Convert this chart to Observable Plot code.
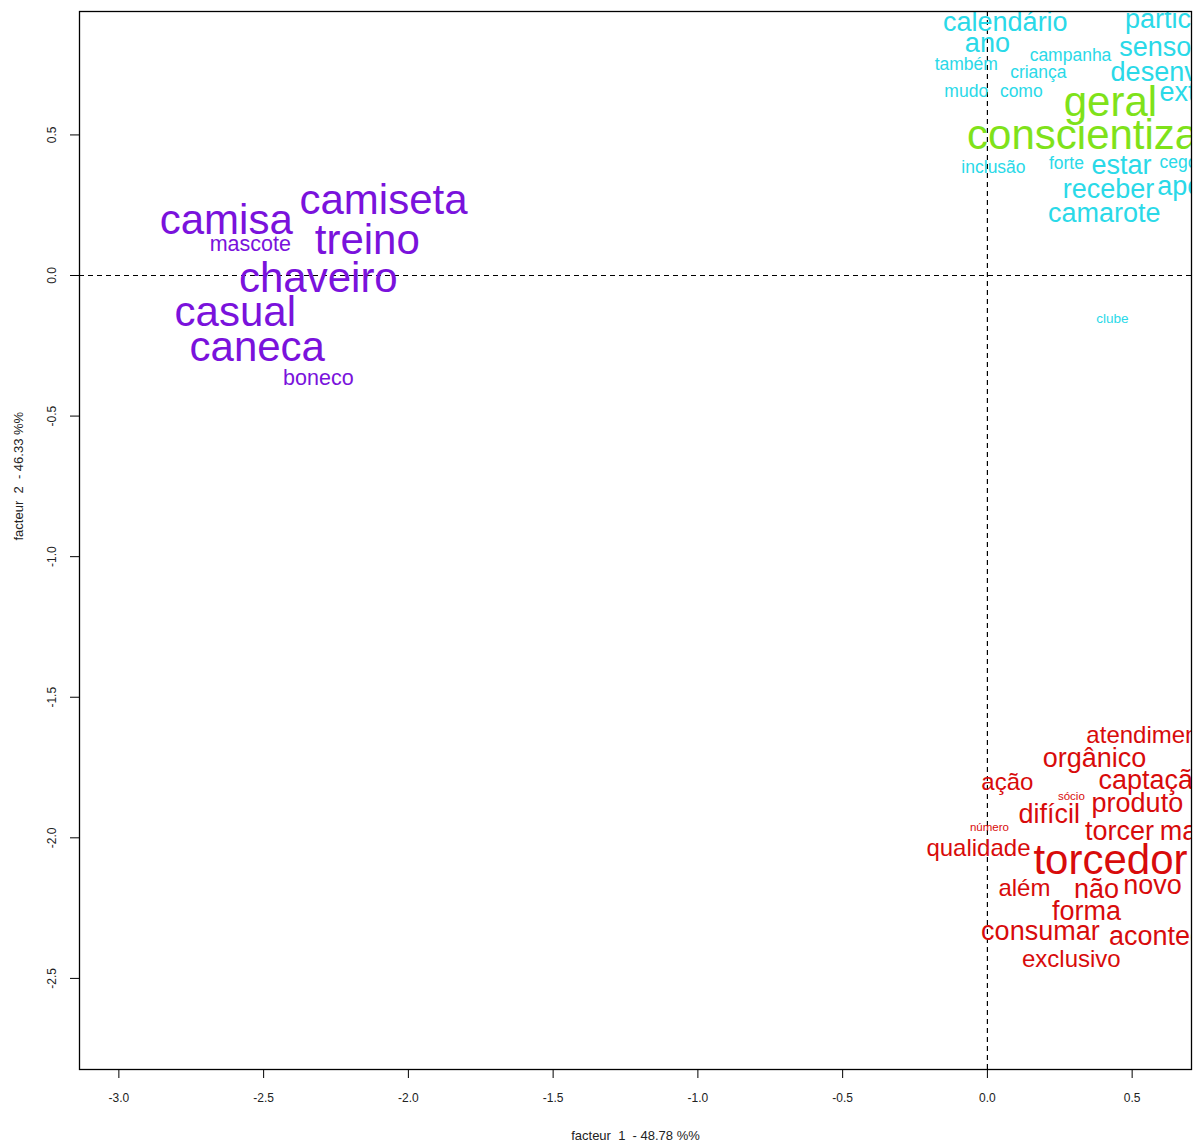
<!DOCTYPE html>
<html><head><meta charset="utf-8">
<script src="https://cdn.jsdelivr.net/npm/d3@7"></script>
<script src="https://cdn.jsdelivr.net/npm/@observablehq/plot@0.6"></script>
<style>
body{margin:0;background:#fff}
#chart svg{display:block}
</style>
</head><body><div id="chart"></div>
<script>
// words of the factorial map
const words = [
  "calendário","ano","campanha","sensorial","participar","também","criança","desenvolver","mudo","como","extra",
  "geral","conscientização",
  "inclusão","forte","estar","cego","receber","apoio","camarote","clube",
  "camisa","camiseta","mascote","treino","chaveiro","casual","caneca","boneco",
  "atendimento","orgânico","ação","captação","sócio","produto","difícil","número","torcer","marca",
  "qualidade","torcedor","além","não","novo","forma","consumar","acontecer","exclusivo"
];
// factor 1 coordinates
const factor1 = [
  0.062,0.000,0.287,0.642,0.667,-0.073,0.176,0.677,-0.073,0.117,0.698,
  0.425,0.446,
  0.021,0.273,0.463,0.660,0.418,0.701,0.404,0.432,
  -2.629,-2.086,-2.546,-2.142,-2.311,-2.598,-2.522,-2.311,
  0.570,0.370,0.069,0.573,0.290,0.518,0.214,0.007,0.456,0.725,
  -0.031,0.425,0.128,0.377,0.570,0.342,0.183,0.625,0.290
];
// factor 2 coordinates
const factor2 = [
  0.900,0.825,0.782,0.811,0.910,0.750,0.722,0.722,0.654,0.654,0.651,
  0.615,0.498,
  0.384,0.398,0.391,0.402,0.306,0.316,0.220,-0.153,
  0.196,0.267,0.110,0.124,-0.011,-0.132,-0.256,-0.366,
  -1.636,-1.718,-1.803,-1.796,-1.853,-1.878,-1.917,-1.963,-1.977,-1.977,
  -2.038,-2.080,-2.180,-2.184,-2.169,-2.262,-2.333,-2.351,-2.432
];
// cluster of each word
const cluster = [
  "c2","c2","c2","c2","c2","c2","c2","c2","c2","c2","c2",
  "c3","c3",
  "c2","c2","c2","c2","c2","c2","c2","c2",
  "c1","c1","c1","c1","c1","c1","c1","c1",
  "c4","c4","c4","c4","c4","c4","c4","c4","c4","c4",
  "c4","c4","c4","c4","c4","c4","c4","c4","c4"
];
// weight level of each word (drives the font size)
const weight = [
  6,6,3,6,6,3,3,6,3,3,6,
  7,7,
  3,3,6,3,6,6,6,2,
  7,7,4,7,7,7,7,4,
  5,6,5,6,1,6,6,1,6,6,
  5,7,5,6,6,6,6,6,5
];
const clusterNames = ["c1","c2","c3","c4"];
const clusterColors = ["#7a12dc","#2ad9e8","#7fe21a","#d80b0b"];
const weightSizes = {1:11.5,2:13.5,3:17.5,4:21.5,5:24,6:27,7:42};

const xTicks = [-3.0,-2.5,-2.0,-1.5,-1.0,-0.5,0.0,0.5];
const yTicks = [0.5,0.0,-0.5,-1.0,-1.5,-2.0,-2.5];
const xTitle = "facteur  1  - 48.78 %%";
const yTitle = "facteur  2  - 46.33 %%";

const data = words.map((w,i)=>({word:w, f1:factor1[i], f2:factor2[i], cl:cluster[i], wt:weight[i]}));

const tickFont = "'Liberation Sans Narrow','Arial Narrow','Liberation Sans',Arial,sans-serif";

const chart = Plot.plot({
  width: 1198,
  height: 1142,
  marginLeft: 79,
  marginRight: 7,
  marginTop: 11,
  marginBottom: 73,
  style: {fontFamily: "'Liberation Sans',Arial,sans-serif", background: "#fff"},
  x: {domain: [-3.136, 0.705]},
  y: {domain: [-2.824, 0.939], axis: null},
  color: {type: "ordinal", domain: clusterNames, range: clusterColors},
  marks: [
    Plot.ruleX([0], {stroke: "#000", strokeWidth: 1.2, strokeDasharray: "5,4"}),
    Plot.ruleY([0], {stroke: "#000", strokeWidth: 1.2, strokeDasharray: "5,4"}),
    Plot.text(data, {
      x: "f1", y: "f2", text: "word", fill: "cl",
      fontSize: d => weightSizes[d.wt],
      textAnchor: "middle", lineAnchor: "middle",
      clip: true
    }),
    Plot.frame({stroke: "#000", strokeWidth: 1.3}),
    Plot.axisX(xTicks, {
      anchor: "bottom", tickSize: 9, tickPadding: 15, label: null,
      tickFormat: d => d.toFixed(1), fontSize: 12, fontFamily: tickFont, fill: "#222"
    }),
    Plot.axisY(yTicks, {
      anchor: "left", tickSize: 9, label: null, tickFormat: () => ""
    }),
    Plot.text(yTicks, {
      y: d => d, text: d => d.toFixed(1), frameAnchor: "left", dx: -27,
      rotate: -90, fontSize: 12, fontFamily: tickFont, fill: "#222",
      textAnchor: "middle", lineAnchor: "middle"
    }),
    Plot.text([xTitle], {
      text: d => d, frameAnchor: "bottom", dy: 66, fontSize: 13, fontFamily: tickFont, fill: "#222",
      lineAnchor: "middle"
    }),
    Plot.text([yTitle], {
      text: d => d, frameAnchor: "left", dx: -61, rotate: -90, fontSize: 13, fontFamily: tickFont, fill: "#222",
      lineAnchor: "middle"
    })
  ]
});
document.getElementById("chart").appendChild(chart);
</script>
</body></html>
